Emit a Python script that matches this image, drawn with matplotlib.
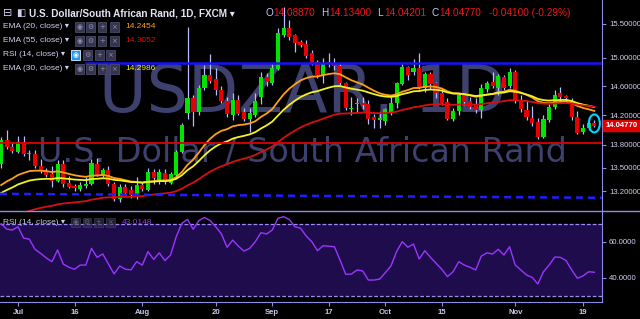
import numpy as np
import pandas as pd
import matplotlib
matplotlib.use('Agg')
import matplotlib.pyplot as plt
from matplotlib.patches import Rectangle, Ellipse
from matplotlib.lines import Line2D
from matplotlib.ticker import FixedLocator, NullLocator, FuncFormatter, NullFormatter
from matplotlib.transforms import Bbox, TransformedBbox, IdentityTransform

plt.rcParams['font.family'] = ['Liberation Sans', 'DejaVu Sans']

######## DATA ########

dates = pd.bdate_range('2018-06-27', periods=106)

opens = [13.55, 13.86, 13.77, 13.71, 13.84, 13.68, 13.68, 13.53, 13.46, 13.42,
         13.33, 13.55, 13.31, 13.27, 13.23, 13.27, 13.29, 13.55, 13.40, 13.47,
         13.29, 13.11, 13.25, 13.22, 13.16, 13.28, 13.22, 13.45, 13.33, 13.44,
         13.31, 13.41, 13.71, 14.23, 14.43, 14.24, 14.58, 14.75, 14.70, 14.55,
         14.40, 14.20, 14.41, 14.24, 14.15, 14.20, 14.45, 14.73, 14.64, 14.84,
         15.33, 15.43, 15.33, 15.23, 15.20, 15.07, 14.94, 14.76, 14.94, 14.92,
         14.88, 14.64, 14.28, 14.35, 14.37, 14.35, 14.17, 14.14, 14.12, 14.24,
         14.37, 14.63, 14.87, 14.80, 14.85, 14.58, 14.77, 14.64, 14.51, 14.38,
         14.15, 14.25, 14.47, 14.39, 14.34, 14.27, 14.56, 14.66, 14.58, 14.73,
         14.60, 14.80, 14.41, 14.27, 14.16, 14.11, 13.91, 14.14, 14.31, 14.50,
         14.46, 14.39, 14.17, 13.97, 14.02, 14.0887]
highs = [13.90, 14.00, 13.84, 13.92, 13.92, 13.73, 13.73, 13.62, 13.50, 13.53,
         13.60, 13.60, 13.40, 13.30, 13.32, 13.38, 13.62, 13.63, 13.50, 13.52,
         13.32, 13.30, 13.29, 13.27, 13.38, 13.32, 13.50, 13.49, 13.49, 13.49,
         13.45, 13.73, 14.10, 15.45, 14.47, 14.62, 14.90, 15.05, 14.85, 14.60,
         14.45, 14.50, 14.48, 14.30, 14.30, 14.51, 14.80, 14.78, 14.93, 15.43,
         15.75, 15.55, 15.34, 15.26, 15.26, 15.11, 14.97, 15.00, 15.07, 15.00,
         14.91, 14.66, 14.45, 14.44, 14.45, 14.41, 14.22, 14.24, 14.30, 14.45,
         14.66, 14.93, 14.88, 14.98, 15.07, 14.80, 14.80, 14.66, 14.57, 14.44,
         14.30, 14.50, 14.50, 14.45, 14.43, 14.63, 14.67, 14.80, 14.77, 14.76,
         14.86, 14.83, 14.47, 14.41, 14.32, 14.16, 14.20, 14.35, 14.54, 14.59,
         14.48, 14.43, 14.25, 14.08, 14.17, 14.134]
lows = [13.50, 13.75, 13.69, 13.69, 13.66, 13.60, 13.50, 13.44, 13.39, 13.25,
        13.32, 13.26, 13.24, 13.20, 13.20, 13.24, 13.28, 13.40, 13.39, 13.27,
        13.08, 13.07, 13.16, 13.12, 13.10, 13.20, 13.20, 13.30, 13.30, 13.30,
        13.29, 13.39, 13.69, 14.15, 14.05, 14.20, 14.55, 14.64, 14.48, 14.36,
        14.18, 14.14, 14.20, 14.12, 13.97, 14.17, 14.35, 14.60, 14.62, 14.83,
        15.30, 15.26, 15.09, 15.16, 15.00, 14.90, 14.72, 14.64, 14.87, 14.83,
        14.62, 14.27, 14.20, 14.24, 14.28, 14.08, 14.02, 14.02, 14.07, 14.20,
        14.30, 14.62, 14.69, 14.75, 14.56, 14.52, 14.56, 14.44, 14.34, 14.14,
        14.12, 14.20, 14.34, 14.28, 14.23, 14.16, 14.52, 14.58, 14.48, 14.55,
        14.58, 14.37, 14.24, 14.13, 14.06, 13.88, 13.89, 14.11, 14.29, 14.37,
        14.36, 14.13, 13.95, 13.95, 14.00, 14.042]
closes = [13.87, 13.77, 13.72, 13.84, 13.68, 13.69, 13.52, 13.46, 13.41, 13.33,
          13.55, 13.30, 13.25, 13.24, 13.28, 13.30, 13.56, 13.41, 13.47, 13.29,
          13.11, 13.26, 13.18, 13.16, 13.28, 13.23, 13.45, 13.37, 13.45, 13.32,
          13.42, 13.71, 14.07, 14.43, 14.24, 14.58, 14.75, 14.67, 14.54, 14.40,
          14.22, 14.41, 14.22, 14.15, 14.23, 14.40, 14.73, 14.66, 14.86, 15.36,
          15.43, 15.31, 15.22, 15.19, 15.03, 14.93, 14.76, 14.93, 14.92, 14.88,
          14.64, 14.30, 14.30, 14.37, 14.34, 14.15, 14.14, 14.16, 14.28, 14.37,
          14.64, 14.87, 14.76, 14.85, 14.58, 14.77, 14.63, 14.51, 14.37, 14.15,
          14.26, 14.47, 14.38, 14.31, 14.27, 14.58, 14.65, 14.60, 14.74, 14.58,
          14.80, 14.41, 14.28, 14.17, 14.09, 13.91, 14.15, 14.31, 14.48, 14.45,
          14.43, 14.17, 13.96, 14.03, 14.10, 14.0477]
rsi = [70.0, 67.0, 66.5, 68.3, 62.0, 61.4, 55.8, 53.5, 51.0, 48.9,
       55.4, 47.6, 45.8, 44.7, 47.0, 47.0, 56.3, 51.3, 53.2, 47.6,
       42.1, 46.5, 44.7, 44.4, 48.9, 47.0, 54.5, 50.2, 53.8, 49.5,
       52.6, 62.8, 70.2, 72.4, 66.9, 71.7, 73.5, 71.7, 68.3, 64.3,
       56.9, 60.9, 57.5, 54.8, 56.3, 60.0, 65.0, 64.3, 66.5, 73.0,
       73.9, 72.4, 68.3, 67.5, 63.2, 60.0, 55.0, 57.8, 57.5, 57.2,
       49.8, 41.9, 42.0, 44.3, 43.8, 38.7, 38.7, 39.2, 42.8, 46.5,
       54.5, 60.0, 56.9, 58.7, 50.4, 55.0, 51.3, 48.0, 44.7, 40.6,
       43.3, 48.9, 47.0, 45.8, 44.3, 52.0, 53.8, 53.2, 55.8, 52.6,
       57.2, 47.0, 44.3, 41.5, 40.2, 36.5, 43.3, 47.0, 51.5, 51.3,
       49.5, 44.3, 39.7, 41.0, 43.3, 43.0148]

tick_days = ['2018-07-02', '2018-07-16', '2018-08-01', '2018-08-20', '2018-09-03',
             '2018-09-17', '2018-10-01', '2018-10-15', '2018-11-01', '2018-11-19']
tick_labels = ['Jul', '16', 'Aug', '20', 'Sep', '17', 'Oct', '15', 'Nov', '19']
price_ticks = [15.5, 15.0, 14.6, 14.2, 13.8, 13.5, 13.2]
rsi_ticks = [60, 40]
rsi_band = [30, 70]

resistance = 14.93
resistance_from = '2018-07-18'
support = 13.83
trend_dash = [13.17, 13.12]     # value at left / right edge

# (period, start value, colour)
emas = [(20, 13.28, '#ff9f1a'), (30, 13.18, '#f2f224'), (55, 12.80, '#d41010')]

legend_rows = [('EMA (20, close) \u25be', '14.2454', '#f5a020'),
               ('EMA (55, close) \u25be', '14.3052', '#d01010'),
               ('RSI (14, close) \u25be', None, None),
               ('EMA (30, close) \u25be', '14.2986', '#f2f230')]

######## FIGURE ########

W, H = 640, 319
BG = 'black'
AXC = '#8c8ce6'
TXT = '#d0d0f0'
UP, DOWN, WICK = '#00e400', '#e80000', '#b8bcff'
WM = '#3e406e'

fig = plt.figure(figsize=(W / 100, H / 100), dpi=100, facecolor=BG)

def fbox(x0, y0, x1, y1):
    return [x0 / W, 1 - y1 / H, (x1 - x0) / W, (y1 - y0) / H]

def ptext(x, y, s, **kw):
    return fig.text(x / W, 1 - y / H, s, va='center', **kw)

ax = fig.add_axes(fbox(0, 0, 602, 211))
rx = fig.add_axes(fbox(0, 211, 602, 302), sharex=ax)

o, h, l, c = map(np.array, (opens, highs, lows, closes))
k = np.arange(len(dates))
x_lo, x_hi = -0.19, 106.36

for a in (ax, rx):
    a.set_facecolor(BG)
    for s in ('left', 'top'):
        a.spines[s].set_visible(False)
    a.spines['right'].set_color(AXC)
    a.spines['bottom'].set_color(AXC)
ax.spines['bottom'].set_visible(False)

# watermark
ax.text(0.503, 1 - 112 / 211, 'USDZAR, 1D', transform=ax.transAxes, ha='center',
        va='baseline', fontsize=47, color=WM, family='DejaVu Sans', zorder=0)
ax.text(0.502, 1 - 162 / 211, 'U.S. Dollar / South African Rand', transform=ax.transAxes,
        ha='center', va='baseline', fontsize=24, color=WM, family='DejaVu Sans', zorder=0)

# candles
up = c >= o
ax.vlines(k, l, h, color=WICK, lw=0.9, zorder=3)
ax.bar(k, np.maximum(np.abs(c - o), 0.006), bottom=np.minimum(o, c), width=0.72,
       color=np.where(up, UP, DOWN), linewidth=0, zorder=4)

# EMAs
for period, seed, col in emas:
    alpha = 2.0 / (period + 1)
    e = np.empty(len(c))
    e[0] = seed
    for j in range(1, len(c)):
        e[j] = e[j - 1] + alpha * (c[j] - e[j - 1])
    ax.plot(k, e, color=col, lw=1.3, zorder=5)

# drawn levels
ax.plot([dates.get_loc(pd.Timestamp(resistance_from)), x_hi], [resistance] * 2,
        color='#1414ff', lw=1.8, zorder=6)
ax.axhline(support, color='#e00000', lw=1.3, zorder=6)
ax.plot([x_lo, x_hi], trend_dash, color='#1e1eff', lw=1.8, dashes=(2.8, 2.0), zorder=6)

ax.set_yscale('log')
ax.set_ylim(12.955, 15.855)
ax.set_xlim(x_lo, x_hi)
ax.yaxis.tick_right()
ax.yaxis.set_major_locator(FixedLocator(price_ticks))
ax.yaxis.set_minor_locator(NullLocator())
ax.yaxis.set_major_formatter(FuncFormatter(lambda v, _: f'{v:.5f}'))
ax.yaxis.set_minor_formatter(NullFormatter())
ax.tick_params(axis='y', colors=AXC, labelcolor=TXT, labelsize=5.6, length=3, width=0.8, pad=2)
ax.tick_params(axis='x', bottom=False, labelbottom=False)

# RSI panel
rx.fill_between([x_lo, x_hi], rsi_band[0], rsi_band[1], color='#1e0c4c', lw=0, zorder=1)
for lvl in rsi_band:
    rx.axhline(lvl, color='#9c8ef0', lw=0.9, dashes=(3, 1.6), zorder=2)
rx.plot(k, rsi, color='#9a36ff', lw=1.0, zorder=3)
rx.set_ylim(26.5, 77.06)
rx.yaxis.tick_right()
rx.yaxis.set_major_locator(FixedLocator(rsi_ticks))
rx.yaxis.set_major_formatter(FuncFormatter(lambda v, _: f'{v:.4f}'))
rx.tick_params(axis='y', colors=AXC, labelcolor=TXT, labelsize=5.6, length=3, width=0.8, pad=2)
rx.set_xticks([dates.get_loc(pd.Timestamp(d)) for d in tick_days])
rx.set_xticklabels(tick_labels, fontweight='bold')
rx.tick_params(axis='x', colors=AXC, labelcolor='#c8c8ec', labelsize=5.6, length=3,
               width=0.8, pad=2)

# separator between panes
fig.add_artist(Line2D([0, 1], [1 - 211 / H] * 2, color=AXC, lw=1))

# partially hidden lowest price label
t = ptext(607, 214, '12.90000', color=TXT, fontsize=5.6)
t.set_clip_box(TransformedBbox(Bbox.from_extents(0, 1 - 210.5 / H, 1, 1), fig.transFigure))

# last price box
fig.add_artist(Rectangle((603 / W, 1 - 131 / H), 37 / W, 11 / H, color='#e00000',
                         transform=fig.transFigure))
ptext(621.5, 125.5, '14.04770', color='white', fontsize=5.6, weight='bold', ha='center')

# circle around last candle
fig.canvas.draw()
cx, cy = ax.transData.transform((k[-1], np.sqrt(h[-1] * l[-1])))
fig.add_artist(Ellipse((cx, cy), 11, 18, transform=IdentityTransform(), fill=False,
                       ec='#00d4ff', lw=1.5))

######## HEADER / LEGEND ########

ptext(3, 13, '\u229f', color=TXT, fontsize=8, family='DejaVu Sans')
ptext(16, 13, '\u25e7', color=TXT, fontsize=7, family='DejaVu Sans')
ptext(29, 13, 'U.S. Dollar/South African Rand, 1D, FXCM \u25be', color='#e4e4f6',
      fontsize=7.2, weight='bold')
for xp, s, col in [(266, 'O', '#c0c8ff'), (273, '14.08870', '#f01818'),
                   (321, 'H', '#c0c8ff'), (329, '14.13400', '#f01818'),
                   (377, 'L', '#c0c8ff'), (384, '14.04201', '#f01818'),
                   (431, 'C', '#c0c8ff'), (439, '14.04770', '#f01818'),
                   (489, '-0.04100 (-0.29%)', '#f01818')]:
    ptext(xp, 13, s, color=col, fontsize=7.2)

def icons(x0s, y, hi=False, dim=1.0):
    syms = ['\u25c9', '\u2699', '+', '\u00d7']
    for n, (xs, sy) in enumerate(zip(x0s, syms)):
        on = hi and n == 0
        fig.add_artist(Rectangle((xs / W, 1 - (y + 4.5) / H), 8.5 / W, 9 / H,
                                 transform=fig.transFigure, alpha=dim,
                                 fc='#2196f3' if on else '#34344c',
                                 ec='#e0f0ff' if on else '#4a4a66', lw=0.6))
        ptext(xs + 4.25, y, sy, color='white' if on else '#9090b0', fontsize=5,
              ha='center', family='DejaVu Sans', alpha=dim)

for n, (lab, val, col) in enumerate(legend_rows):
    y = 27 + 14 * n
    ptext(3, y, lab, color=TXT, fontsize=6)
    if val is None:
        icons([71, 83, 95, 106], y, hi=True)
    else:
        icons([75, 86, 97.5, 110], y)
        ptext(125, y, val, color=col, fontsize=6)

ptext(3, 222, 'RSI (14, close) \u25be', color='#c8c8e8', fontsize=6)
icons([71, 82.5, 94, 106], 222, dim=0.6)
ptext(122, 222, '43.0148', color='#8a3cf0', fontsize=6)

fig.savefig('out.png', dpi=100, facecolor=BG)
